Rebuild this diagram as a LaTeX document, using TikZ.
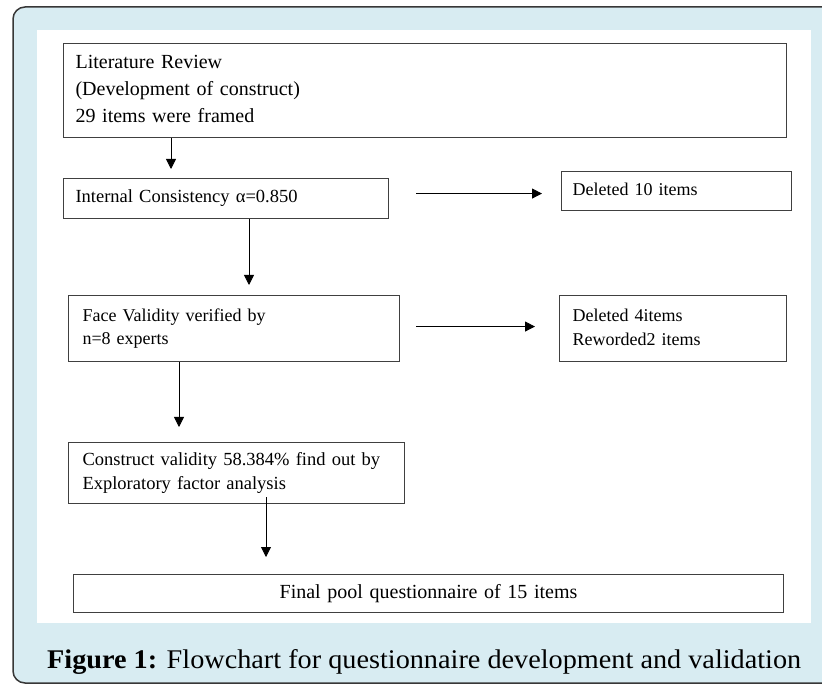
\documentclass[tikz,border=0pt]{standalone}
\usepackage{graphicx}
\usepackage{fontspec}
\setmainfont{Liberation Serif}
\usetikzlibrary{arrows.meta}
\definecolor{panelblue}{RGB}{216,236,242}
\definecolor{edgegray}{RGB}{55,55,55}
\tikzset{
  stepbox/.style={draw=black!75, line width=1.1pt, anchor=north west, align=left, inner ysep=0pt},
  flow/.style={-{Triangle[length=10pt,width=10pt]}, line width=0.8pt},
}
\begin{document}
\begin{tikzpicture}[x=1pt,y=-1pt]
\useasboundingbox (0,0) rectangle (822,684);
% frame and panel
\begin{scope}
  \clip (0,0) rectangle (822,684);
  \draw[edgegray, line width=1.5pt, fill=panelblue, rounded corners=12pt] (13,7) rectangle (870,683);
\end{scope}
\fill[white] (37,30) rectangle (811,623);

% steps
\node[stepbox, inner xsep=12pt, text width=699pt, minimum height=94pt, font=\fontsize{20}{27}\selectfont] (lit) at (63,43)
  {\strut Literature Review\\\strut (Development of construct)\\\strut 29 items were framed};
\node[stepbox, inner xsep=12pt, text width=301pt, minimum height=40pt, font=\fontsize{18.5}{22}\selectfont] (cons) at (63,178)
  {\strut Internal Consistency α=0.850};
\node[stepbox, inner xsep=11pt, text width=208pt, minimum height=39pt, font=\fontsize{18}{20}\selectfont] (del1) at (561,171)
  {\strut Deleted 10 items};
\node[stepbox, inner xsep=14pt, text width=303pt, minimum height=66pt, font=\fontsize{18}{23}\selectfont] (face) at (68,295)
  {\strut Face Validity verified by\\\strut n=8 experts};
\node[stepbox, inner xsep=13pt, text width=201pt, minimum height=66pt, font=\fontsize{18}{24}\selectfont] (del2) at (559,295)
  {\strut Deleted 4items\\\strut Reworded2 items};
\node[stepbox, inner xsep=14pt, text width=308pt, minimum height=61pt, font=\fontsize{18.5}{24}\selectfont] (constr) at (68,442)
  {\strut Construct validity 58.384\% find out by\\\strut Exploratory factor analysis};
\node[stepbox, align=center, inner xsep=6pt, text width=698pt, minimum height=38pt, font=\fontsize{20}{24}\selectfont] (final) at (73,574)
  {\strut Final pool questionnaire of 15 items};

% arrows
\draw[flow] ([xshift=108pt]lit.south west) -- ([xshift=108pt,yshift=9pt]cons.north west);
\draw[flow] ([xshift=27pt,yshift=5pt]cons.east) -- ([xshift=-19pt,yshift=-2.5pt]del1.west);
\draw[flow] ([xshift=186pt]cons.south west) -- ([xshift=181pt,yshift=10pt]face.north west);
\draw[flow] ([xshift=16pt,yshift=2pt]face.east) -- ([xshift=-24pt,yshift=2pt]del2.west);
\draw[flow] ([xshift=111pt]face.south west) -- ([xshift=111pt,yshift=15pt]constr.north west);
\draw[flow] ([xshift=198pt,yshift=7pt]constr.south west) -- ([xshift=193pt,yshift=17pt]final.north west);

% caption
\node[anchor=base west, inner sep=0pt] (cap) at (47,668)
  {\resizebox{754pt}{19pt}{\textbf{Figure 1:} Flowchart for questionnaire development and validation}};
\end{tikzpicture}
\end{document}
